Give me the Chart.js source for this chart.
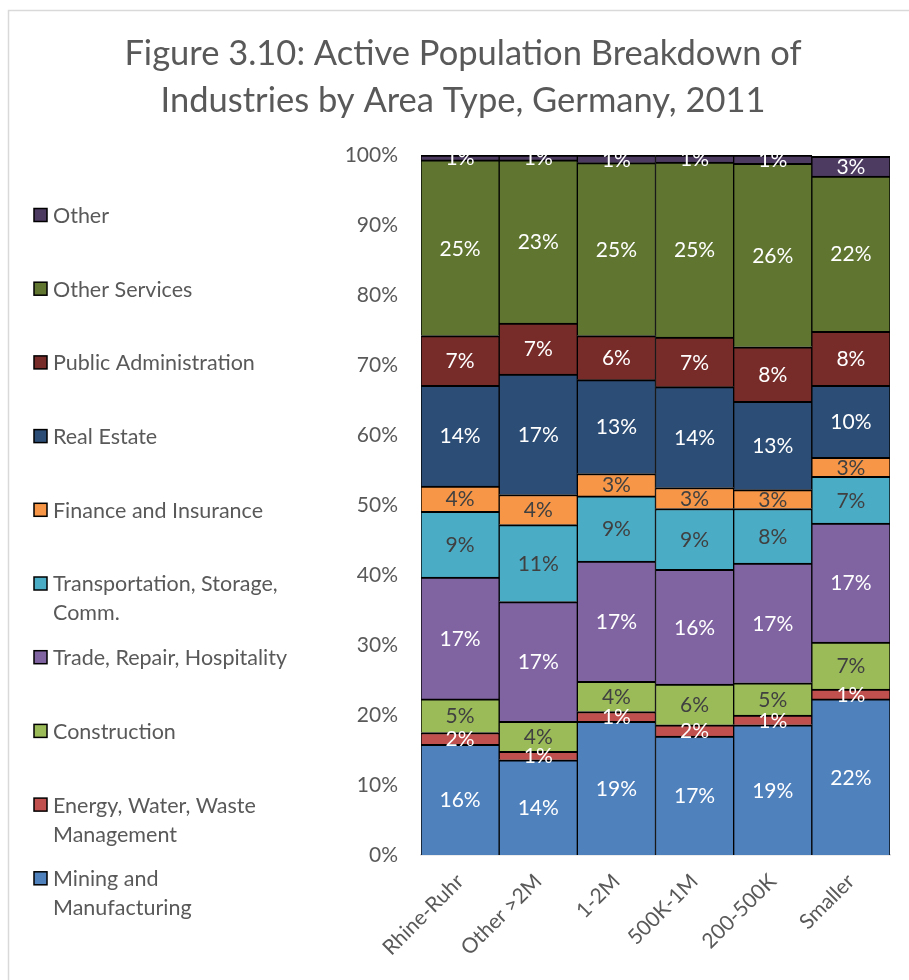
<!DOCTYPE html>
<html>
<head>
<meta charset="utf-8">
<script src="https://cdn.jsdelivr.net/npm/chart.js@4.4.0/dist/chart.umd.min.js"></script>
<style>
html, body { margin: 0; padding: 0; background: #fff; }
</style>
</head>
<body>
<canvas id="grafico" width="909" height="980"></canvas>
<script>
// categorias (tipo de area)
const tiposArea = ["Rhine-Ruhr", "Other >2M", "1-2M", "500K-1M", "200-500K", "Smaller"];

// percentuais, de baixo para cima
const mineracao     = [15.8, 13.6, 19.1, 17.0, 18.6, 22.3];
const energia       = [1.7, 1.2, 1.4, 1.6, 1.4, 1.4];
const construcao    = [4.8, 4.3, 4.3, 5.8, 4.6, 6.7];
const comercio      = [17.4, 17.1, 17.2, 16.4, 17.1, 17.0];
const transporte    = [9.4, 11.0, 9.3, 8.7, 7.8, 6.7];
const financas      = [3.6, 4.3, 3.2, 3.0, 2.7, 2.7];
const imobiliario   = [14.4, 17.2, 13.4, 14.4, 12.6, 10.3];
const administracao = [7.1, 7.3, 6.3, 7.1, 7.8, 7.7];
const outrosServ    = [25.1, 23.3, 24.7, 25.0, 26.2, 22.2];
const outros        = [0.7, 0.7, 1.1, 1.0, 1.2, 2.8];

const ticksY = [0, 10, 20, 30, 40, 50, 60, 70, 80, 90, 100];

const series = [
    { nome: ["Mining and", "Manufacturing"], dados: mineracao, cor: "#4F81BD", texto: "#ffffff" },
    { nome: ["Energy, Water, Waste", "Management"], dados: energia, cor: "#C0504D", texto: "#ffffff" },
    { nome: ["Construction"], dados: construcao, cor: "#9BBB59", texto: "#404040" },
    { nome: ["Trade, Repair, Hospitality"], dados: comercio, cor: "#8064A2", texto: "#ffffff" },
    { nome: ["Transportation, Storage,", "Comm."], dados: transporte, cor: "#4BACC6", texto: "#404040" },
    { nome: ["Finance and Insurance"], dados: financas, cor: "#F79646", texto: "#404040" },
    { nome: ["Real Estate"], dados: imobiliario, cor: "#2C4D75", texto: "#ffffff" },
    { nome: ["Public Administration"], dados: administracao, cor: "#772C2A", texto: "#ffffff" },
    { nome: ["Other Services"], dados: outrosServ, cor: "#5F7530", texto: "#ffffff" },
    { nome: ["Other"], dados: outros, cor: "#4D3B62", texto: "#ffffff" }
];

const FONTE = "Lato, 'Open Sans', sans-serif";
const CINZA = "#595959";

// rotulos de dados no centro de cada segmento
const rotulos = {
    id: "rotulos",
    afterDatasetsDraw(chart) {
        const ctx = chart.ctx;
        ctx.save();
        ctx.font = "21px " + FONTE;
        ctx.textAlign = "center";
        ctx.textBaseline = "middle";
        chart.data.datasets.forEach((ds, i) => {
            const meta = chart.getDatasetMeta(i);
            meta.data.forEach((barra, j) => {
                ctx.fillStyle = series[i].texto;
                ctx.fillText(Math.round(ds.data[j]) + "%", barra.x, (barra.y + barra.base) / 2 + 1);
            });
        });
        ctx.restore();
    }
};

// titulo, legenda a esquerda e moldura
const extras = {
    id: "extras",
    afterDraw(chart) {
        const ctx = chart.ctx;
        ctx.save();

        ctx.strokeStyle = "#d9d9d9";
        ctx.lineWidth = 1.5;
        ctx.beginPath();
        ctx.moveTo(8.5, 980);
        ctx.lineTo(8.5, 10.5);
        ctx.lineTo(909, 10.5);
        ctx.stroke();

        ctx.fillStyle = CINZA;
        ctx.textAlign = "center";
        ctx.textBaseline = "middle";
        ctx.font = "34.5px " + FONTE;
        ctx.fillText("Figure 3.10: Active Population Breakdown of", 463, 54);
        ctx.fillText("Industries by Area Type, Germany, 2011", 463, 101);

        ctx.textAlign = "left";
        ctx.font = "21.5px " + FONTE;
        const ordem = series.slice().reverse();
        ordem.forEach((s, k) => {
            const y = 215 + k * 73.7;
            ctx.fillStyle = s.cor;
            ctx.fillRect(34, y - 6.5, 13, 13);
            ctx.strokeStyle = "#000";
            ctx.lineWidth = 1.5;
            ctx.strokeRect(34, y - 6.5, 13, 13);
            ctx.fillStyle = CINZA;
            s.nome.forEach((linha, n) => ctx.fillText(linha, 53, y + 1 + n * 29));
        });
        ctx.restore();
    }
};

const ctx = document.getElementById("grafico").getContext("2d");
new Chart(ctx, {
    type: "bar",
    data: {
        labels: tiposArea,
        datasets: series.map(s => ({
            label: s.nome.join(" "),
            data: s.dados,
            backgroundColor: s.cor,
            borderColor: "#000000",
            borderWidth: { top: 2, bottom: 0, left: 1, right: 1 },
            borderSkipped: false,
            categoryPercentage: 1.0,
            barPercentage: 1.0
        }))
    },
    options: {
        responsive: false,
        animation: false,
        layout: { padding: { left: 330, right: 19, top: 155, bottom: 0 } },
        plugins: {
            legend: { display: false },
            title: { display: false },
            tooltip: { enabled: false }
        },
        scales: {
            x: {
                stacked: true,
                grid: { display: false, drawTicks: false },
                border: { display: true, color: "#d9d9d9", width: 1.5 },
                ticks: {
                    color: CINZA,
                    font: { family: FONTE, size: 21 },
                    minRotation: 45,
                    maxRotation: 45,
                    padding: 14
                },
                afterFit: s => { s.height = 125; }
            },
            y: {
                stacked: true,
                min: 0,
                max: 100,
                grid: { display: false, drawTicks: false },
                border: { display: false },
                afterBuildTicks: s => { s.ticks = ticksY.map(v => ({ value: v })); },
                ticks: {
                    color: CINZA,
                    font: { family: FONTE, size: 21 },
                    padding: 23,
                    callback: v => v + "%"
                },
                afterFit: s => { s.width = 91; }
            }
        }
    },
    plugins: [rotulos, extras]
});
</script>
</body>
</html>
